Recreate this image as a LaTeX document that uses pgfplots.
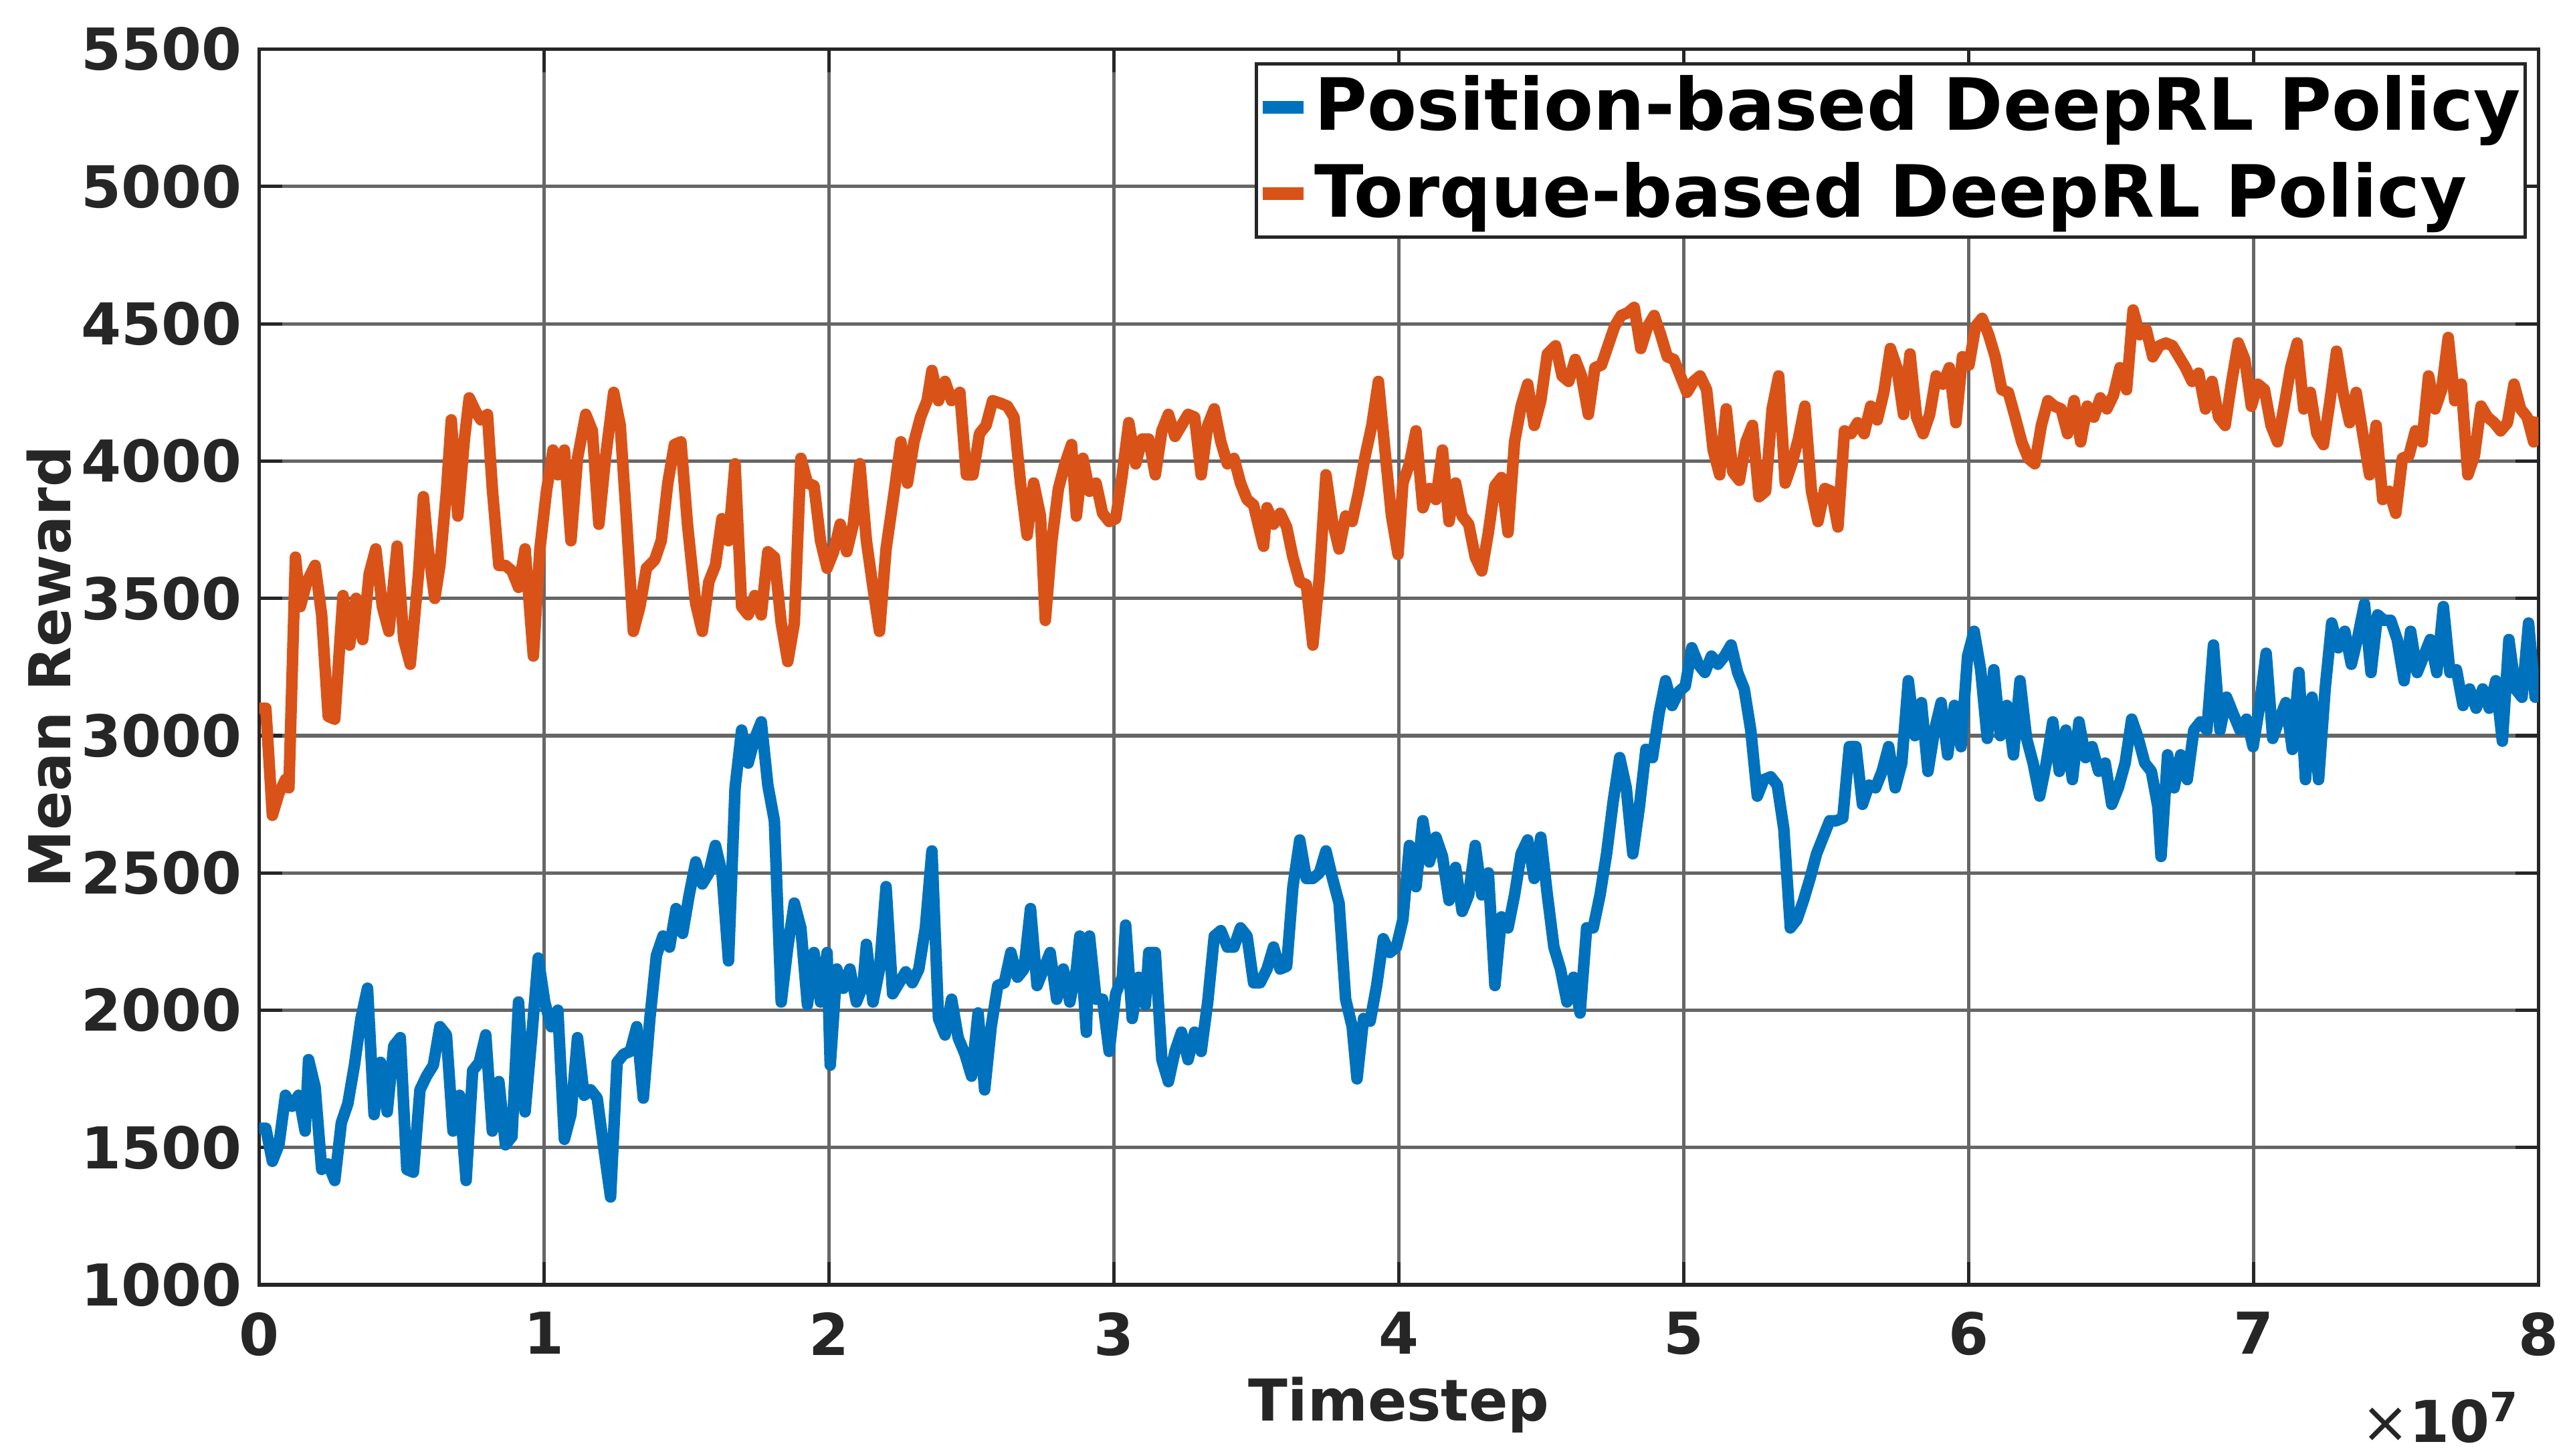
\documentclass[border=0pt]{standalone}
\usepackage{fontspec}
\setmainfont{DejaVu Sans}
\usepackage{pgfplots}
\usepackage{pgfplotstable}
\pgfplotsset{compat=1.18}
\usetikzlibrary{calc}

\definecolor{mblue}{RGB}{0,114,189}
\definecolor{morange}{RGB}{217,83,25}
\definecolor{mgray}{RGB}{38,38,38}

% Torque-based policy (x in units of 1e7 timesteps)
\pgfplotstableread{
x y
0.000 3100
0.023 3100
0.046 2710
0.069 2790
0.092 2840
0.104 2810
0.127 3650
0.144 3470
0.167 3560
0.196 3620
0.219 3440
0.242 3070
0.265 3060
0.294 3510
0.317 3330
0.340 3500
0.363 3350
0.386 3590
0.409 3680
0.432 3470
0.455 3380
0.484 3690
0.507 3350
0.530 3260
0.559 3590
0.576 3870
0.593 3680
0.616 3500
0.634 3620
0.657 3890
0.674 4150
0.697 3800
0.720 4080
0.737 4230
0.760 4180
0.778 4150
0.801 4170
0.818 3900
0.841 3620
0.864 3620
0.887 3600
0.910 3540
0.933 3680
0.962 3290
0.985 3680
1.008 3890
1.031 4040
1.048 3950
1.071 4040
1.094 3710
1.117 4010
1.146 4170
1.169 4110
1.192 3770
1.215 4010
1.244 4250
1.267 4130
1.290 3770
1.313 3380
1.336 3470
1.359 3610
1.388 3640
1.411 3710
1.434 3920
1.457 4060
1.480 4070
1.503 3770
1.532 3480
1.555 3380
1.578 3560
1.601 3620
1.624 3790
1.647 3710
1.670 3990
1.693 3470
1.716 3440
1.739 3510
1.762 3440
1.785 3670
1.808 3650
1.832 3410
1.855 3270
1.878 3410
1.901 4010
1.924 3920
1.947 3910
1.970 3710
1.993 3610
2.016 3670
2.039 3770
2.062 3670
2.085 3770
2.108 3990
2.131 3710
2.154 3540
2.177 3380
2.200 3680
2.229 3890
2.252 4070
2.275 3920
2.298 4070
2.321 4160
2.344 4220
2.361 4330
2.384 4220
2.407 4290
2.430 4220
2.459 4250
2.482 3950
2.505 3950
2.528 4100
2.551 4130
2.574 4220
2.603 4210
2.626 4200
2.649 4160
2.672 3920
2.695 3730
2.718 3920
2.742 3800
2.759 3420
2.782 3710
2.805 3900
2.828 3990
2.851 4060
2.868 3800
2.891 4010
2.914 3890
2.937 3920
2.960 3810
2.983 3780
3.006 3790
3.029 3950
3.052 4140
3.076 3990
3.099 4080
3.122 4080
3.145 3950
3.168 4110
3.191 4170
3.214 4090
3.237 4130
3.260 4170
3.283 4160
3.306 3950
3.329 4130
3.352 4190
3.375 4070
3.398 3990
3.421 4010
3.444 3920
3.467 3860
3.490 3840
3.513 3740
3.525 3690
3.537 3830
3.560 3770
3.583 3810
3.606 3760
3.628 3650
3.652 3560
3.675 3550
3.698 3330
3.721 3580
3.744 3950
3.767 3780
3.790 3680
3.813 3800
3.836 3780
3.859 3890
3.882 4020
3.905 4130
3.928 4290
3.951 4040
3.974 3800
3.997 3660
4.014 3920
4.037 3990
4.060 4110
4.084 3830
4.107 3900
4.130 3860
4.153 4040
4.176 3780
4.199 3920
4.222 3800
4.245 3770
4.268 3650
4.291 3600
4.314 3740
4.337 3910
4.360 3940
4.383 3740
4.406 4070
4.429 4200
4.452 4280
4.475 4130
4.498 4220
4.521 4390
4.550 4420
4.573 4310
4.596 4290
4.619 4370
4.641 4310
4.665 4170
4.688 4340
4.711 4350
4.734 4420
4.757 4490
4.780 4530
4.803 4540
4.826 4560
4.849 4410
4.873 4490
4.896 4530
4.919 4460
4.942 4380
4.965 4370
4.988 4310
5.011 4250
5.034 4290
5.057 4310
5.080 4260
5.103 4040
5.126 3950
5.149 4190
5.172 3960
5.195 3930
5.218 4070
5.241 4130
5.264 3870
5.287 3890
5.310 4190
5.333 4310
5.356 3920
5.379 3990
5.402 4080
5.425 4200
5.448 3890
5.471 3780
5.495 3900
5.518 3890
5.541 3760
5.564 4110
5.587 4100
5.610 4140
5.633 4100
5.656 4200
5.679 4150
5.702 4250
5.725 4410
5.748 4340
5.771 4170
5.794 4390
5.817 4160
5.840 4100
5.863 4170
5.886 4310
5.909 4280
5.932 4340
5.955 4140
5.978 4380
6.001 4350
6.024 4490
6.047 4520
6.070 4460
6.093 4380
6.116 4260
6.139 4250
6.163 4160
6.186 4070
6.209 4010
6.232 3990
6.255 4130
6.278 4220
6.301 4200
6.324 4190
6.347 4100
6.370 4220
6.393 4070
6.416 4200
6.439 4160
6.462 4230
6.485 4190
6.508 4240
6.531 4340
6.554 4260
6.577 4550
6.600 4460
6.623 4480
6.646 4380
6.669 4420
6.692 4430
6.715 4420
6.738 4380
6.761 4340
6.784 4290
6.807 4320
6.831 4190
6.854 4290
6.877 4160
6.900 4130
6.923 4290
6.946 4430
6.969 4370
6.992 4200
7.015 4280
7.038 4260
7.061 4130
7.084 4070
7.107 4200
7.130 4340
7.153 4430
7.176 4190
7.199 4250
7.222 4100
7.245 4060
7.268 4220
7.291 4400
7.314 4250
7.337 4140
7.360 4250
7.383 4100
7.407 3950
7.430 4130
7.453 3860
7.476 3890
7.499 3810
7.522 4010
7.545 4020
7.568 4110
7.591 4070
7.614 4310
7.637 4190
7.660 4260
7.683 4450
7.706 4220
7.729 4280
7.752 3950
7.775 4020
7.798 4200
7.821 4160
7.844 4140
7.867 4110
7.891 4140
7.914 4280
7.937 4190
7.960 4160
7.983 4070
8.000 4160
}\torque

% Position-based policy
\pgfplotstableread{
x y
0.000 1570
0.023 1570
0.046 1450
0.069 1510
0.092 1690
0.115 1650
0.138 1690
0.161 1560
0.173 1820
0.196 1720
0.219 1420
0.242 1440
0.265 1380
0.288 1590
0.311 1660
0.334 1800
0.357 1970
0.380 2080
0.403 1620
0.426 1810
0.449 1630
0.472 1870
0.495 1900
0.518 1420
0.541 1410
0.564 1710
0.587 1760
0.611 1800
0.634 1940
0.657 1910
0.680 1560
0.703 1690
0.726 1380
0.749 1780
0.772 1810
0.795 1910
0.818 1560
0.841 1740
0.864 1510
0.887 1540
0.910 2030
0.933 1630
0.956 1900
0.979 2190
1.002 2030
1.025 1940
1.048 2000
1.071 1530
1.094 1620
1.117 1900
1.140 1690
1.163 1710
1.186 1680
1.209 1500
1.233 1320
1.256 1810
1.279 1840
1.302 1850
1.325 1940
1.348 1680
1.371 1970
1.394 2200
1.417 2270
1.440 2230
1.463 2370
1.486 2280
1.509 2420
1.532 2540
1.555 2460
1.578 2500
1.601 2600
1.624 2500
1.647 2180
1.670 2810
1.693 3020
1.716 2900
1.739 2990
1.762 3050
1.785 2820
1.808 2690
1.832 2030
1.855 2230
1.878 2390
1.901 2300
1.924 2020
1.947 2210
1.970 2030
1.993 2210
2.004 1800
2.027 2150
2.050 2080
2.073 2150
2.096 2030
2.119 2090
2.131 2240
2.154 2030
2.177 2150
2.200 2450
2.223 2060
2.246 2100
2.269 2140
2.292 2100
2.315 2150
2.338 2300
2.361 2580
2.384 1970
2.407 1910
2.430 2040
2.453 1900
2.477 1840
2.500 1760
2.523 1990
2.546 1710
2.569 1940
2.592 2090
2.615 2100
2.638 2210
2.661 2120
2.684 2150
2.707 2370
2.730 2090
2.753 2150
2.776 2210
2.799 2040
2.822 2150
2.845 2030
2.868 2150
2.880 2270
2.903 1920
2.914 2270
2.937 2040
2.960 2040
2.983 1850
3.006 2060
3.029 2120
3.041 2310
3.064 1970
3.087 2120
3.110 2020
3.122 2210
3.145 2210
3.168 1820
3.191 1740
3.214 1850
3.237 1920
3.260 1820
3.283 1920
3.306 1850
3.329 2030
3.352 2270
3.375 2290
3.398 2230
3.421 2230
3.444 2300
3.467 2270
3.490 2100
3.513 2100
3.537 2150
3.560 2230
3.583 2150
3.606 2160
3.628 2450
3.652 2620
3.675 2480
3.698 2480
3.721 2500
3.744 2580
3.767 2480
3.790 2390
3.813 2040
3.836 1940
3.853 1750
3.876 1970
3.899 1960
3.922 2090
3.945 2260
3.968 2210
3.991 2230
4.014 2330
4.037 2600
4.060 2450
4.084 2690
4.107 2540
4.130 2630
4.153 2560
4.176 2400
4.199 2520
4.222 2360
4.245 2420
4.268 2600
4.291 2420
4.314 2500
4.337 2090
4.360 2340
4.383 2300
4.406 2420
4.429 2570
4.452 2620
4.475 2480
4.498 2630
4.521 2420
4.544 2230
4.567 2150
4.590 2030
4.613 2120
4.636 1990
4.659 2300
4.682 2300
4.706 2420
4.729 2570
4.752 2760
4.775 2920
4.798 2810
4.821 2570
4.844 2740
4.867 2950
4.890 2920
4.913 3080
4.936 3200
4.959 3110
4.982 3160
5.005 3180
5.028 3320
5.051 3260
5.074 3230
5.097 3290
5.120 3260
5.143 3290
5.166 3330
5.189 3230
5.212 3170
5.235 3020
5.258 2780
5.281 2840
5.305 2850
5.328 2820
5.351 2660
5.374 2300
5.397 2330
5.420 2400
5.443 2480
5.466 2570
5.489 2630
5.512 2690
5.535 2690
5.558 2700
5.581 2960
5.604 2960
5.627 2750
5.650 2820
5.673 2810
5.696 2870
5.719 2960
5.742 2810
5.765 2900
5.788 3200
5.811 3000
5.834 3120
5.857 2870
5.880 3020
5.903 3120
5.926 2930
5.950 3110
5.973 2960
5.996 3290
6.019 3380
6.042 3240
6.065 2990
6.088 3240
6.111 3000
6.134 3110
6.157 2930
6.180 3200
6.203 2990
6.226 2900
6.249 2780
6.272 2900
6.295 3050
6.318 2870
6.341 3020
6.364 2840
6.387 3050
6.410 2920
6.433 2960
6.456 2870
6.479 2900
6.502 2750
6.525 2810
6.549 2900
6.572 3060
6.595 2990
6.618 2900
6.641 2870
6.664 2740
6.675 2560
6.698 2930
6.721 2810
6.744 2930
6.767 2840
6.790 3020
6.813 3050
6.836 3020
6.859 3330
6.882 3020
6.905 3140
6.928 3080
6.952 3020
6.975 3060
6.998 2960
7.021 3110
7.044 3300
7.067 2990
7.090 3060
7.113 3120
7.136 2950
7.159 3230
7.182 2840
7.205 3140
7.228 2840
7.251 3170
7.274 3410
7.297 3320
7.320 3380
7.343 3260
7.366 3360
7.389 3480
7.412 3230
7.435 3440
7.458 3420
7.481 3420
7.504 3350
7.528 3200
7.551 3380
7.574 3230
7.597 3290
7.620 3350
7.643 3230
7.666 3470
7.689 3230
7.712 3240
7.735 3110
7.758 3170
7.781 3100
7.804 3170
7.827 3100
7.850 3200
7.873 2980
7.896 3350
7.919 3170
7.942 3140
7.965 3410
7.988 3140
8.000 3150
}\position

\begin{document}
\begin{tikzpicture}
\begin{axis}[
    name=ax,
    scale only axis,
    width=138.9mm, height=75.3mm,
    xmin=0, xmax=8, ymin=1000, ymax=5500,
    xtick={0,1,...,8},
    ytick={1000,1500,...,5500},
    scaled ticks=false,
    /pgf/number format/1000 sep={},
    /pgf/number format/assume math mode=true,
    tick label style={font=\bfseries\fontsize{10}{12}\selectfont, text=mgray},
    xticklabel style={inner sep=0pt, yshift=-1.6mm},
    yticklabel style={inner sep=0pt, xshift=-1mm},
    tick align=inside, tick pos=both,
    major tick length=1.4mm,
    tick style={mgray, line width=0.6pt},
    axis line style={mgray, line width=0.6pt},
    grid=major,
    grid style={black!60, line width=0.6pt},
    xlabel={Timestep},
    ylabel={Mean Reward},
    label style={font=\bfseries\fontsize{10}{12}\selectfont, text=mgray},
    xlabel style={at={(axis description cs:0.5,0)}, anchor=base, yshift=-8.3mm},
    ylabel style={at={(axis description cs:0,0.5)}, anchor=center, yshift=12.8mm},
    legend style={at={(rel axis cs:1,1)}, anchor=north east, xshift=-0.7mm, yshift=-0.8mm,
        draw=mgray, line width=0.6pt, inner sep=0pt, fill=white,
        font=\bfseries\fontsize{12.5}{14.8}\selectfont,
        nodes={inner xsep=0.8pt, inner ysep=2pt}, row sep=0pt},
    legend cell align=left,
    legend image code/.code={\draw[#1, line width=2.2pt] (0mm,0mm) -- (2.5mm,0mm);},
]
\addplot[mblue, line width=2pt, line join=round] table[x=x, y=y] {\position};
\addlegendentry{Position-based DeepRL Policy}
\addplot[morange, line width=2pt, line join=round] table[x=x, y=y] {\torque};
\addlegendentry{Torque-based DeepRL Policy}
\end{axis}
\node[anchor=base east, inner sep=0pt, text=mgray, font=\fontsize{10}{12}\selectfont]
    at ($(ax.south east)+(-1mm,-9.6mm)$) {×\textbf{10}\textsuperscript{\textbf{7}}};
\pgfresetboundingbox
\path[use as bounding box] ($(ax.south west)+(-15.8mm,-10.4mm)$) rectangle ($(ax.north east)+(2.1mm,3mm)$);
\end{tikzpicture}
\end{document}
